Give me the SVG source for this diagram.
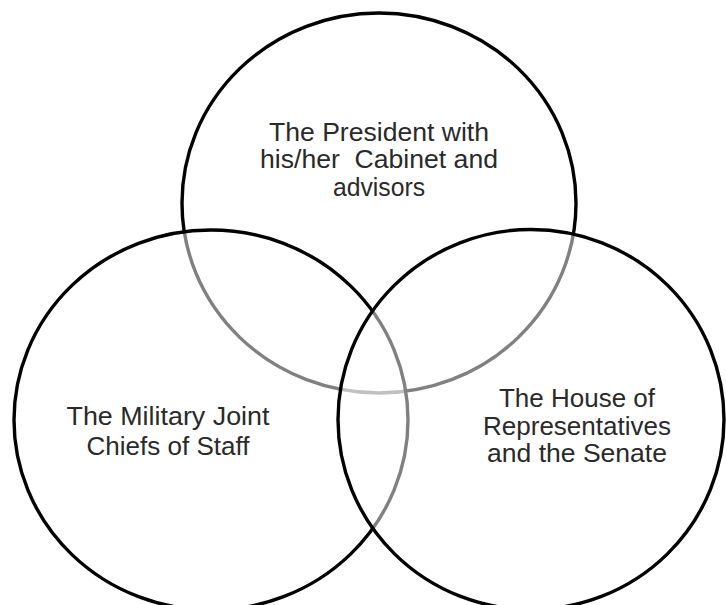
<svg xmlns="http://www.w3.org/2000/svg" width="726" height="605" viewBox="0 0 726 605">
  <style>
    .set { fill: #ffffff; fill-opacity: 0.5; stroke: #000000; stroke-width: 3.4; }
    .label { font-family: "Liberation Sans", Arial, sans-serif; font-size: 25px; fill: #2a2a2a; text-anchor: middle; }
  </style>
  <rect width="726" height="605" fill="#ffffff"/>

  <!-- Executive branch -->
  <g id="president">
    <ellipse class="set" cx="379" cy="203" rx="197" ry="190"/>
    <text class="label" x="379" y="141" textLength="220" lengthAdjust="spacingAndGlyphs">The President with</text>
    <text class="label" x="379" y="168" textLength="238" lengthAdjust="spacingAndGlyphs" xml:space="preserve">his/her  Cabinet and</text>
    <text class="label" x="379" y="196" textLength="92" lengthAdjust="spacingAndGlyphs">advisors</text>
  </g>

  <!-- Military -->
  <g id="military">
    <ellipse class="set" cx="211" cy="420" rx="197" ry="190"/>
    <text class="label" x="168" y="425" textLength="203" lengthAdjust="spacingAndGlyphs">The Military Joint</text>
    <text class="label" x="168" y="455" textLength="163" lengthAdjust="spacingAndGlyphs">Chiefs of Staff</text>
  </g>

  <!-- Legislative branch -->
  <g id="congress">
    <ellipse class="set" cx="531" cy="419.5" rx="193" ry="190"/>
    <text class="label" x="577" y="407" textLength="156" lengthAdjust="spacingAndGlyphs">The House of</text>
    <text class="label" x="577" y="435" textLength="188" lengthAdjust="spacingAndGlyphs">Representatives</text>
    <text class="label" x="577" y="462" textLength="180" lengthAdjust="spacingAndGlyphs">and the Senate</text>
  </g>
</svg>
